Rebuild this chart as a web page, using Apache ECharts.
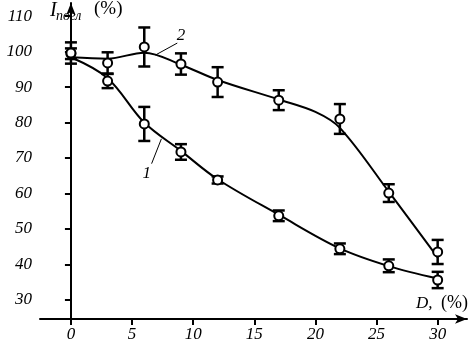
<!DOCTYPE html>
<html>
<head>
<meta charset="utf-8">
<script src="https://cdn.jsdelivr.net/npm/echarts@6/dist/echarts.min.js"></script>
<style>
  html, body { margin: 0; padding: 0; background: #fff; }
  #chart { width: 473px; height: 346px; }
</style>
</head>
<body>
<div id="chart"></div>
<script>
// measured points, D (%)
const dose = [0, 3, 6, 9, 12, 17, 22, 26, 30];
const curve1Vals = [99.4, 91.7, 79.6, 71.7, 63.8, 53.7, 44.4, 39.6, 35.6];
const curve1Err = [1.5, 2, 4.8, 2.2, 1, 1.5, 1.5, 1.8, 2.3];
const curve2Vals = [99.6, 96.8, 101.3, 96.5, 91.4, 86.3, 81, 60.1, 43.5];
const curve2Err = [3, 3, 5.5, 3, 4.2, 2.8, 4.2, 2.5, 3.4];
// fitted curves as drawn in the picture
const fit1X = [0, 3, 6, 9, 12, 17, 22, 26, 30];
const fit1Y = [98.4, 92.5, 80, 72, 64, 54, 44.5, 39.5, 36];
const fit2X = [0, 3, 6, 9, 12, 17, 20, 22, 26, 30];
const fit2Y = [98.4, 98, 99.7, 96.3, 92, 86.5, 83, 78.5, 60.5, 42];
const yTicks = [30, 40, 50, 60, 70, 80, 90, 100, 110];
const xTicks = [0, 5, 10, 15, 20, 25, 30];

const serif = 'Liberation Serif';
const chart = echarts.init(document.getElementById('chart'));

function pairs(xs, ys) { return xs.map((x, i) => [x, ys[i]]); }
function errRows(vals, errs) { return dose.map((x, i) => [x, vals[i] - errs[i], vals[i] + errs[i]]); }

function errBar(params, api) {
  const top = api.coord([api.value(0), api.value(2)]);
  const bot = api.coord([api.value(0), api.value(1)]);
  const w = 6;
  const st = { stroke: '#000', lineWidth: 2.5 };
  return {
    type: 'group',
    children: [
      { type: 'line', shape: { x1: top[0], y1: top[1], x2: bot[0], y2: bot[1] }, style: st },
      { type: 'line', shape: { x1: top[0] - w, y1: top[1], x2: top[0] + w, y2: top[1] }, style: st },
      { type: 'line', shape: { x1: bot[0] - w, y1: bot[1], x2: bot[0] + w, y2: bot[1] }, style: st }
    ]
  };
}

const pointStyle = { color: '#fff', borderColor: '#000', borderWidth: 2, opacity: 1 };

chart.setOption({
  animation: false,
  grid: { left: 40, right: 6, top: 3, bottom: 27 },
  xAxis: {
    type: 'value', min: -2.53, max: 32.4,
    axisLine: { lineStyle: { color: '#000', width: 2 }, symbol: ['none', 'arrow'], symbolSize: [7, 12] },
    axisTick: { length: 6, lineStyle: { width: 2, color: '#000' }, customValues: xTicks },
    axisLabel: { customValues: xTicks, margin: 7, color: '#000', fontFamily: serif, fontStyle: 'italic', fontSize: 17 },
    splitLine: { show: false }
  },
  yAxis: {
    type: 'value', min: 24.6, max: 113.7,
    axisLine: { lineStyle: { color: '#000', width: 2 }, symbol: ['none', 'arrow'], symbolSize: [7, 12] },
    axisTick: { length: 6, lineStyle: { width: 2, color: '#000' }, customValues: yTicks },
    axisLabel: { customValues: yTicks, margin: 8, color: '#000', fontFamily: serif, fontStyle: 'italic', fontSize: 17 },
    splitLine: { show: false }
  },
  series: [
    { type: 'line', data: pairs(fit1X, fit1Y), smooth: 0.35, symbol: 'none', lineStyle: { color: '#000', width: 2 }, z: 1 },
    { type: 'line', data: pairs(fit2X, fit2Y), smooth: 0.35, symbol: 'none', lineStyle: { color: '#000', width: 2 }, z: 1 },
    { type: 'custom', renderItem: errBar, data: errRows(curve1Vals, curve1Err), z: 2 },
    { type: 'custom', renderItem: errBar, data: errRows(curve2Vals, curve2Err), z: 2 },
    { type: 'scatter', data: pairs(dose, curve1Vals), symbol: 'circle', symbolSize: 9, itemStyle: pointStyle, z: 3 },
    { type: 'scatter', data: pairs(dose, curve2Vals), symbol: 'circle', symbolSize: 9, itemStyle: pointStyle, z: 3 }
  ]
});

// leader lines and curve numbers, placed in data space
const px = p => chart.convertToPixel({ gridIndex: 0 }, p);
const l2a = px([6.9, 99.0]), l2b = px([8.7, 102.4]), t2 = px([9.0, 104.6]);
const l1a = px([7.4, 75.4]), l1b = px([6.6, 68.4]), t1 = px([6.2, 65.6]);

chart.setOption({
  graphic: [
    { type: 'line', shape: { x1: l2a[0], y1: l2a[1], x2: l2b[0], y2: l2b[1] }, style: { stroke: '#000', lineWidth: 1 } },
    { type: 'line', shape: { x1: l1a[0], y1: l1a[1], x2: l1b[0], y2: l1b[1] }, style: { stroke: '#000', lineWidth: 1 } },
    { type: 'text', x: t2[0], y: t2[1], style: { text: '2', font: 'italic 17px ' + serif, fill: '#000', align: 'center', verticalAlign: 'middle' } },
    { type: 'text', x: t1[0], y: t1[1], style: { text: '1', font: 'italic 17px ' + serif, fill: '#000', align: 'center', verticalAlign: 'middle' } },
    // axis names
    { type: 'text', x: 50, y: 1, style: { text: 'I', font: 'italic 20px ' + serif, fill: '#000' } },
    { type: 'text', x: 56, y: 9, style: { text: 'погл', font: 'italic 14px ' + serif, fill: '#000' } },
    { type: 'text', x: 94, y: 0, style: { text: '(%)', font: '19px ' + serif, fill: '#000' } },
    { type: 'text', x: 416, y: 295, style: { text: 'D,', font: 'italic 17px ' + serif, fill: '#000' } },
    { type: 'text', x: 441, y: 294, style: { text: '(%)', font: '18px ' + serif, fill: '#000' } }
  ]
});
</script>
</body>
</html>
